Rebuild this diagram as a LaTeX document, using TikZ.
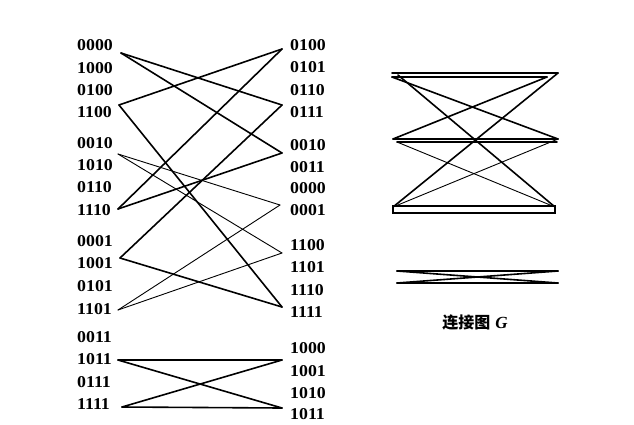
\documentclass[tikz,border=0pt]{standalone}
\usepackage{fontspec}
\setmainfont{Liberation Serif}
\newfontfamily\cjk{Noto Sans CJK SC}
\begin{document}
\begin{tikzpicture}[x=1pt,y=-1pt,
  lab/.style={inner sep=0pt, anchor=west, font=\fontsize{16.5}{16.5}\selectfont\bfseries},
  thk/.style={line width=1.6pt, line cap=round},
  thn/.style={line width=0.9pt, line cap=round}]
\useasboundingbox (0,0) rectangle (634,424);
% left labels
\foreach \t/\y in {0000/45.5,1000/68,0100/90.5,1100/112.5,
                   0010/143,1010/165,0110/187.5,1110/210,
                   0001/241.5,1001/263.5,0101/286.5,1101/309,
                   0011/337,1011/359.5,0111/382,1111/404.5}
  \node[lab] (Ll\t) at (77,\y) {\scalebox{1.08}[1]{\t}};
% right labels
\foreach \t/\y in {0100/45.5,0101/67.5,0110/90,0111/112,
                   0010/145,0011/167,0000/188.5,0001/210.5,
                   1100/245,1101/267.5,1110/290,1111/312,
                   1000/348,1001/371,1010/393,1011/414.5}
  \node[lab] (Rl\t) at (290,\y) {\scalebox{1.08}[1]{\t}};
% connector ends
\coordinate (L0000) at (121,53);
\coordinate (L1100) at (119,105);
\coordinate (L0010) at (118,154);
\coordinate (L1110) at (118,209);
\coordinate (L1001) at (120,258);
\coordinate (L1101) at (118,310);
\coordinate (L1011) at (118,360);
\coordinate (L1111) at (122,407);
\coordinate (R0100) at (282,49);
\coordinate (R0111) at (282,105);
\coordinate (R0010) at (282,153);
\coordinate (R0001) at (280,205);
\coordinate (R1100) at (282,253);
\coordinate (R1111) at (282,307);
\coordinate (R1000) at (282,360);
\coordinate (R1011) at (282,408);
% thick connectors
\draw[thk] (L0000) -- (R0111);
\draw[thk] (L0000) -- (R0010);
\draw[thk] (L1100) -- (R0100);
\draw[thk] (L1100) -- (R1111);
\draw[thk] (L1110) -- (R0100);
\draw[thk] (L1110) -- (R0010);
\draw[thk] (L1001) -- (R0111);
\draw[thk] (L1001) -- (R1111);
% thin connectors
\draw[thn] (L0010) -- (R0001);
\draw[thn] (L0010) -- (R1100);
\draw[thn] (L1101) -- (R0001);
\draw[thn] (L1101) -- (R1100);
% bottom group
\draw[thk] (L1011) -- (R1000);
\draw[thk] (L1011) -- (R1011);
\draw[thk] (L1111) -- (R1000);
\draw[thk] (L1111) -- (R1011);
% connection graph G
\coordinate (A1) at (392,73);   \coordinate (A2) at (558,73);
\coordinate (B1) at (392,77);   \coordinate (B2) at (547,77);
\coordinate (C1) at (393,139);  \coordinate (C2) at (558,139);
\coordinate (D1) at (397,142);  \coordinate (D2) at (557,142);
\coordinate (E1) at (393,206);  \coordinate (E2) at (555,213);
\coordinate (E3) at (393,207);  \coordinate (E4) at (555,207);
\coordinate (F1) at (397,271);  \coordinate (F2) at (558,271);
\coordinate (G1) at (397,283);  \coordinate (G2) at (558,283);
\coordinate (T1) at (398,75);
\draw[thk] (A1) -- (A2);
\draw[thk] (B1) -- (B2);
\draw[thk] (B1) -- (C2);
\draw[thk] (T1) -- (E4);
\draw[thk] (A2) -- (E3);
\draw[thk] (B2) -- (C1);
\draw[thk] (C1) -- (C2);
\draw[thk] (D1) -- (D2);
\draw[thn] (D1) -- (E4);
\draw[thn] (C2) -- (E3);
\draw[line width=1.3pt] (E1) rectangle (E2);
\draw[thk] (F1) -- (F2);
\draw[thk] (G1) -- (G2);
\draw[thk] (F1) -- (G2);
\draw[thk] (G1) -- (F2);
\node[inner sep=0pt, font=\fontsize{16}{16}\selectfont] (cap) at (475,322)
  {{\cjk\bfseries 连接图}\hspace{5pt}{\fontsize{17}{17}\selectfont\bfseries\itshape G}};
\end{tikzpicture}
\end{document}
